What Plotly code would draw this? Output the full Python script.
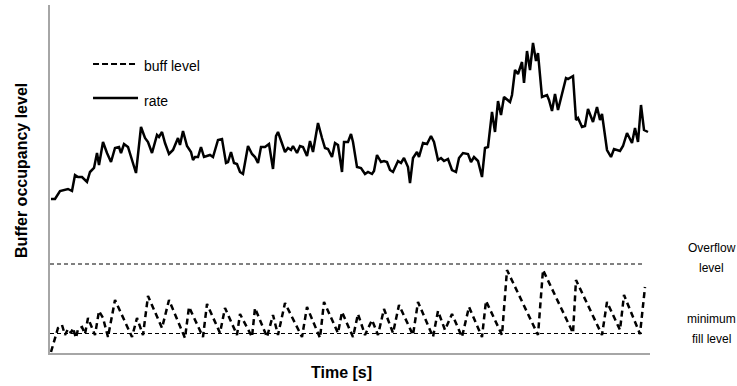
import plotly.graph_objects as go

# Time axis (s) and transmission rate samples
rate_time = [0.5, 2.5, 5, 7.5, 9, 11, 12.5, 14, 16, 18.5, 20, 22, 23.5, 24.5, 26.5, 28.5, 30.5,
             32.5, 34.5, 35.5, 37, 39, 40.5, 43, 45.5, 47.5, 49, 51, 53.5, 54.5, 56, 57.5, 59.5,
             61.5, 64, 65, 66.5, 68.5, 70.5, 71.5, 72.5, 74, 75.5, 77, 80, 81.5, 84, 86, 88, 89,
             90.5, 92, 93.5, 95, 96.5, 99, 101, 102.5, 104, 105.5, 107.5, 109.5, 111.5, 113, 114,
             116, 117.5, 119, 120.5, 121.5, 123.5, 125, 126.5, 128.5, 130, 131.5, 134, 136, 137.5,
             139, 141, 142.5, 144, 146, 147, 149, 150.5, 151.5, 153.5, 155.5, 157.5, 159, 161, 162,
             163.5, 165.5, 167, 168.5, 170, 171.5, 174, 175.5, 177, 179, 180, 181.5, 183.5, 184.5,
             186.5, 188.5, 190.5, 192, 194, 195.5, 197, 199, 201, 203, 204.5, 206.5, 209, 210.5,
             212, 214, 216, 217.5, 219, 221, 222.5, 224, 225.5, 227, 230, 231, 232.5, 234, 236,
             237, 238.5, 240, 241.5, 243, 244, 246, 248.5, 249.5, 251, 252.5, 254, 255.5, 258, 259,
             261.5, 263, 264, 266, 267.5, 269, 271.5, 273.5, 275, 276, 278.5, 280.5, 282, 285,
             286.5, 288.5, 291, 292.5, 294, 295.5, 297, 299]
rate_value = [154, 154, 162, 163, 164, 162, 178, 176, 176, 171, 181, 185, 200, 188, 211, 200, 191,
              205, 206, 200, 209, 206, 196, 180, 226, 215, 211, 200, 218, 216, 221, 210, 199,
              203, 215, 208, 222, 207, 201, 193, 196, 196, 206, 196, 198, 196, 213, 214, 190, 191,
              201, 190, 189, 181, 179, 207, 199, 196, 190, 206, 206, 209, 184, 217, 221,
              210, 201, 205, 203, 207, 200, 207, 206, 197, 212, 201, 230, 215, 205,
              204, 196, 210, 208, 181, 211, 211, 219, 211, 186, 185, 179, 181, 179, 182,
              198, 191, 192, 191, 183, 181, 192, 190, 195, 186, 170, 195, 201, 196,
              210, 209, 217, 211, 193, 195, 192, 194, 183, 181, 195, 200, 199, 191,
              196, 192, 176, 205, 206, 241, 221, 252, 238, 256, 251, 258, 283, 279, 291,
              270, 302, 283, 310, 292, 300, 256, 258, 253, 242, 259, 243, 255, 275, 274,
              277, 233, 235, 226, 227, 244, 231, 246, 233, 239, 203, 196, 204, 202,
              207, 220, 210, 225, 211, 248, 223, 221]

# Receiver buffer fill (sawtooth between refills)
buff_time = [0.5, 4, 6, 7.5, 9, 10.5, 11.5, 13, 14, 16, 17.5, 19, 22.5, 24.5, 26.5, 29, 32.5,
             37.5, 41, 43.5, 46.5, 49, 56, 59.5, 67.5, 69.5, 76.5, 78.5, 85, 87.5, 93.5, 95,
             101, 102.5, 108.5, 111.5, 114, 117.5, 126, 128.5, 135, 137, 144, 146, 151.5, 154,
             157.5, 161, 164, 167, 171.5, 174.5, 181.5, 184, 191.5, 194, 197.5, 201, 206, 209.5,
             216, 218, 226, 228.5, 244, 246.5, 261.5, 263, 276, 278.5, 285, 287, 295, 297.5]
buff_value = [1, 25, 28, 18, 24, 20, 25, 15, 24, 26, 19, 35, 18, 42, 35, 16, 53,
              31, 16, 35, 18, 57, 25, 53, 15, 46, 16, 49, 20, 45, 18, 39,
              16, 45, 16, 38, 18, 50, 16, 46, 15, 51, 20, 41, 16, 39,
              18, 33, 18, 44, 20, 48, 18, 51, 16, 42, 23, 39, 16, 46,
              16, 52, 18, 83, 18, 83, 20, 73, 18, 51, 23, 58, 19, 66]

# Reference levels of the buffer
overflow_level = 89
min_fill_level = 19.5
level_span = [0, 296.5]

T_MAX = 300
Y_MAX = 348

FONT = "Liberation Sans, Arial, sans-serif"

fig = go.Figure()

for lvl in (overflow_level, min_fill_level):
    fig.add_trace(go.Scatter(x=level_span, y=[lvl, lvl], mode="lines",
                             line=dict(color="black", width=1, dash="4px,3px"),
                             hoverinfo="skip", showlegend=False))

fig.add_trace(go.Scatter(x=buff_time, y=buff_value, mode="lines", name="buff level",
                         line=dict(color="black", width=2.5, dash="6px,4px"),
                         showlegend=False))
fig.add_trace(go.Scatter(x=rate_time, y=rate_value, mode="lines", name="rate",
                         line=dict(color="black", width=2.5),
                         showlegend=False))

# Key: sample strokes with labels
key_x0, key_x1 = 0.0717, 0.1467
fig.add_shape(type="line", xref="paper", yref="paper", x0=key_x0, x1=key_x1,
              y0=0.8305, y1=0.8305, line=dict(color="black", width=2, dash="6px,3px"))
fig.add_shape(type="line", xref="paper", yref="paper", x0=key_x0, x1=key_x1,
              y0=0.733, y1=0.733, line=dict(color="black", width=2.5))

LABEL_X = 1.1033
annotations = [
    dict(text="buff level", x=0.153, y=0.825, xanchor="left", yanchor="middle",
         font=dict(size=14)),
    dict(text="rate", x=0.153, y=0.724, xanchor="left", yanchor="middle",
         font=dict(size=14)),
    dict(text="Overflow", x=LABEL_X, y=0.3017, xanchor="center", yanchor="middle",
         font=dict(size=12)),
    dict(text="level", x=LABEL_X, y=0.2443, xanchor="center", yanchor="middle",
         font=dict(size=12)),
    dict(text="minimum", x=LABEL_X, y=0.0977, xanchor="center", yanchor="middle",
         font=dict(size=12)),
    dict(text="fill level", x=LABEL_X, y=0.0402, xanchor="center", yanchor="middle",
         font=dict(size=12)),
    dict(text="<b>Buffer occupancy level</b>", x=-0.0467, y=0.526, textangle=-90,
         xanchor="center", yanchor="middle", font=dict(size=16)),
    dict(text="<b>Time [s]</b>", x=0.485, y=-0.0546, xanchor="center", yanchor="middle",
         font=dict(size=16)),
]
for a in annotations:
    a.update(xref="paper", yref="paper", showarrow=False)
    a["font"].update(family=FONT, color="black")
    fig.add_annotation(**a)

axis_common = dict(showgrid=False, zeroline=False, showticklabels=False, ticks="",
                   showline=True, linecolor="#a6a6a6", linewidth=1.5, fixedrange=True)
fig.update_xaxes(range=[0, T_MAX], **axis_common)
fig.update_yaxes(range=[0, Y_MAX], **axis_common)

fig.update_layout(
    width=737, height=386,
    margin=dict(l=50, r=87, t=5, b=33),
    plot_bgcolor="white", paper_bgcolor="white",
    font=dict(family=FONT, color="black"),
    showlegend=False,
)

fig.write_html("out.html")
